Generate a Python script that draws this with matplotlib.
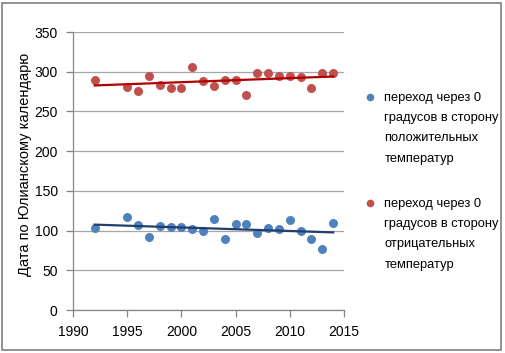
import numpy as np
import matplotlib
matplotlib.use("Agg")
import matplotlib.pyplot as plt
from matplotlib.lines import Line2D
from matplotlib.legend_handler import HandlerLine2D
from matplotlib.patches import Rectangle

years_pos = [1992, 1995, 1996, 1997, 1998, 1999, 2000, 2001, 2002, 2003, 2004,
             2005, 2006, 2007, 2008, 2009, 2010, 2011, 2012, 2013, 2014]
values_pos = [103, 117, 107, 92, 106, 105, 104, 102, 100, 114, 89,
              108, 108, 97, 103, 102, 113, 100, 89, 77, 110]

years_neg = [1992, 1995, 1996, 1997, 1998, 1999, 2000, 2001, 2002, 2003, 2004,
             2005, 2006, 2007, 2008, 2009, 2010, 2011, 2012, 2013, 2014]
values_neg = [290, 281, 276, 295, 283, 280, 280, 306, 288, 282, 289,
              289, 271, 298, 299, 295, 294, 293, 279, 298, 299]

label_pos = "переход через 0\nградусов в сторону\nположительных\nтемператур"
label_neg = "переход через 0\nградусов в сторону\nотрицательных\nтемператур"
y_label = "Дата по Юлианскому календарю"
x_ticks = [1990, 1995, 2000, 2005, 2010, 2015]
y_ticks = [0, 50, 100, 150, 200, 250, 300, 350]

blue = "#4F81BD"
red = "#C0504D"
blue_trend = "#1F3F6E"
red_trend = "#B00000"

plt.rcParams['font.family'] = ['Liberation Sans', 'DejaVu Sans']

W, H = 506, 353
fig = plt.figure(figsize=(W / 100, H / 100), dpi=100)
fig.patch.set_facecolor("white")

# outer border
border = Rectangle((2.5 / W, 3 / H), 499 / W, 347 / H,
                   transform=fig.transFigure,
                   facecolor="none", edgecolor="#7F7F7F", linewidth=1.2)
fig.add_artist(border)

ax = fig.add_axes([73 / W, (H - 310) / H, 271 / W, 278 / H])

ax.scatter(years_pos, values_pos, s=42, color=blue, zorder=3, linewidths=0)
ax.scatter(years_neg, values_neg, s=42, color=red, zorder=3, linewidths=0)

# linear trends
for yrs, vals, c in [(years_pos, values_pos, blue_trend), (years_neg, values_neg, red_trend)]:
    yrs = np.asarray(yrs, float)
    k, b = np.polyfit(yrs, np.asarray(vals, float), 1)
    xs = np.array([yrs.min(), yrs.max()])
    ax.plot(xs, k * xs + b, color=c, linewidth=1.6, zorder=4)

ax.set_xlim(1990, 2015)
ax.set_ylim(0, 350)
ax.set_xticks(x_ticks)
ax.set_yticks(y_ticks)
ax.grid(axis="y", color="#A6A6A6", linewidth=0.9)
ax.set_axisbelow(True)
for s in ["top", "right"]:
    ax.spines[s].set_visible(False)
for s in ["left", "bottom"]:
    ax.spines[s].set_color("#868686")
    ax.spines[s].set_linewidth(0.9)
ax.tick_params(axis="both", colors="#868686", length=5, width=0.9,
               labelsize=10, labelcolor="black")
ax.tick_params(axis="x", pad=6)
ax.tick_params(axis="y", pad=6)

ax.set_ylabel(y_label, fontsize=10.5)
ax.yaxis.set_label_coords((32 - 73) / 271, (310 - 164.5) / 278)


class TopHandler(HandlerLine2D):
    def __init__(self, shift, **kw):
        super().__init__(**kw)
        self.shift = shift

    def create_artists(self, legend, orig_handle, xdescent, ydescent, width,
                       height, fontsize, trans):
        arts = super().create_artists(legend, orig_handle, xdescent, ydescent,
                                      width, height, fontsize, trans)
        for a in arts:
            a.set_ydata(np.asarray(a.get_ydata()) + self.shift)
        return arts


h_pos = Line2D([], [], linestyle="none", marker="o", markersize=5.5,
               color=blue, markeredgewidth=0)
h_neg = Line2D([], [], linestyle="none", marker="o", markersize=5.5,
               color=red, markeredgewidth=0)
shift = 22.7
leg = fig.legend([h_pos, h_neg], [label_pos, label_neg],
                 loc="upper left", bbox_to_anchor=(352 / W, 1 - 80 / H),
                 frameon=False, fontsize=9.3, handlelength=1.0,
                 handletextpad=0.6, labelspacing=2.55,
                 handler_map={h_pos: TopHandler(shift), h_neg: TopHandler(shift)})
for t in leg.get_texts():
    t.set_linespacing(1.93)

fig.savefig("out.png", dpi=100)
